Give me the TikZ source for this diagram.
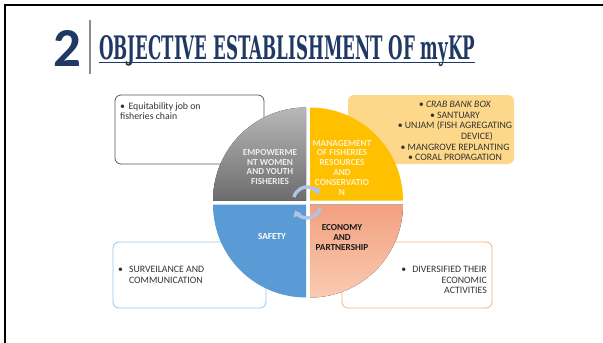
\documentclass[tikz,border=0pt]{standalone}
\usepackage{fontspec}
\usepackage{graphicx}
\setmainfont{Carlito}
\newfontfamily\titlefont{DejaVu Serif}
\usetikzlibrary{arrows.meta}

\definecolor{navy}{HTML}{1F3864}
\definecolor{barGray}{HTML}{8C8C8C}
\definecolor{goldQ}{HTML}{FFC000}
\definecolor{blueQ}{HTML}{5B9BD5}
\definecolor{salmonTop}{HTML}{F2A080}
\definecolor{salmonBot}{HTML}{F9CBB2}
\definecolor{greyTop}{HTML}{B8B8B8}
\definecolor{greyBot}{HTML}{6C6C6C}
\definecolor{cycleArrow}{HTML}{AFC4E6}
\definecolor{boxDark}{HTML}{595959}
\definecolor{boxBlue}{HTML}{9DC3E6}
\definecolor{boxOrange}{HTML}{F4B183}
\definecolor{boxFill}{HTML}{FDD88A}
\definecolor{bodyText}{HTML}{333333}
\definecolor{creamText}{HTML}{FFF1C8}
\definecolor{lightText}{HTML}{EEEEEE}

\tikzset{
  infobox/.style={draw=#1, rounded corners=6pt, line width=0.8pt, fill=white, inner sep=0},
  boxtext/.style={inner sep=0, text=bodyText, font=\fontsize{9.8}{10.6}\selectfont},
  quadtext/.style={inner sep=0, align=center, font=\bfseries\fontsize{9.2}{9.8}\selectfont},
  cyclearrow/.style={draw=cycleArrow, line width=3.4pt,
                     -{Triangle[width=9pt,length=5.5pt]}}
}

\begin{document}
\begin{tikzpicture}[x=1pt,y=-1pt]
\useasboundingbox (0,0) rectangle (603,343);
\fill[white] (0,0) rectangle (603,343);

% slide frame: top and left edges
\draw[line width=2pt] (4.5,343) -- (4.5,4.5) -- (603,4.5);

% heading
\node[text=navy, anchor=south west, inner sep=0] (num) at (53,67)
  {\resizebox{!}{36pt}{\bfseries 2}};
\draw[barGray, line width=2pt] (90,20) -- (90,74);
\node[text=navy, anchor=base west, inner sep=0] (title) at (99,59)
  {\resizebox{376pt}{24pt}{\titlefont\bfseries OBJECTIVE ESTABLISHMENT OF myKP}};
\draw[navy, line width=1.5pt] (99,62.5) -- (475,62.5);

% side boxes (behind the circle)
\node[infobox=boxDark, minimum width=149pt, minimum height=69pt] (boxEmp) at (189.5,129.5) {};
\node[rounded corners=6pt, fill=boxFill, minimum width=166pt, minimum height=69pt,
      inner sep=0] (boxMan) at (431,129.5) {};
\node[infobox=boxBlue, minimum width=153pt, minimum height=66pt] (boxSaf) at (189.5,275) {};
\node[infobox=boxOrange, minimum width=150pt, minimum height=66pt] (boxEco) at (417,275) {};

% four quadrants of the cycle
\fill[top color=greyTop, bottom color=greyBot]
  (306,200.5) -- (213,200.5) arc[start angle=180, end angle=270, radius=93] -- cycle;
\fill[goldQ]
  (310,200.5) -- (310,107.5) arc[start angle=270, end angle=360, radius=93] -- cycle;
\fill[top color=salmonTop, bottom color=salmonBot]
  (310,204.5) -- (403,204.5) arc[start angle=0, end angle=90, radius=93] -- cycle;
\fill[blueQ]
  (306,204.5) -- (306,297.5) arc[start angle=90, end angle=180, radius=93] -- cycle;

% circular arrows in the middle
\draw[cyclearrow] (307,200.5) ++(195:13.5) arc[start angle=195, end angle=333, radius=13.5];
\draw[cyclearrow] (307,204.5) ++(15:13.5) arc[start angle=15, end angle=153, radius=13.5];

% quadrant labels
\node[quadtext, text=lightText] (qEmp) at (270,167)
  {EMPOWERME\\NT WOMEN\\AND YOUTH\\FISHERIES};
\node[quadtext, text=creamText] (qMan) at (342,167.5)
  {MANAGEMENT\\OF FISHERIES\\RESOURCES\\AND\\CONSERVATIO\\N};
\node[quadtext, text=white] (qSaf) at (272,237) {SAFETY};
\node[quadtext, text=black!90] (qEco) at (342,237.5)
  {ECONOMY\\AND\\PARTNERSHIP};

% box texts
\node[boxtext, anchor=north west, align=left] (tEmp) at (120,102)
  {\textbullet\hspace{3.5pt}Equitability job on\\fisheries chain};
\node[boxtext, align=center] (tMan) at (455,131)
  {\textit{\textbullet\ CRAB BANK BOX}\\
   \textbullet\ SANTUARY\\
   \textbullet\ UNJAM (FISH AGREGATING\\
   \hspace*{44pt}DEVICE)\\
   \textbullet\ MANGROVE REPLANTING\\
   \textbullet\ CORAL PROPAGATION};
\node[boxtext, anchor=west] (tSaf) at (118,276)
  {\begin{tabular}{@{}l@{\hspace{6pt}}l@{}}\textbullet & SURVEILANCE AND\\ & COMMUNICATION\end{tabular}};
\node[boxtext, anchor=east] (tEco) at (487,281)
  {\begin{tabular}{@{}l@{\hspace{6pt}}r@{}}\textbullet & DIVERSIFIED THEIR\\ & ECONOMIC\\ & ACTIVITIES\end{tabular}};
\end{tikzpicture}
\end{document}
